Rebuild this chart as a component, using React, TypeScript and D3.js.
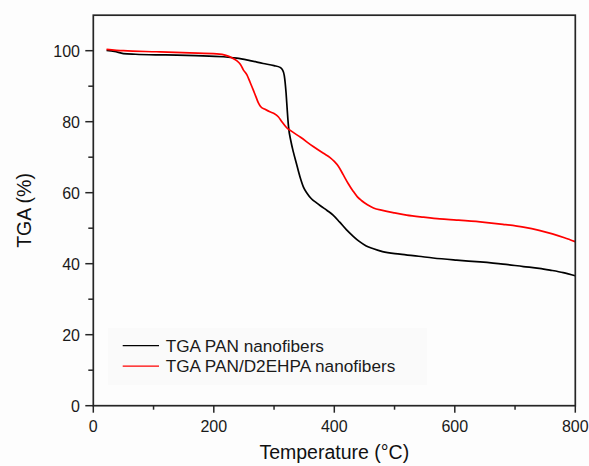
import React from "react";
import * as d3 from "d3";

const W = 589;
const H = 466;

const xTicks = [0, 200, 400, 600, 800];
const xMinor = [100, 300, 500, 700];
const yTicks = [0, 20, 40, 60, 80, 100];
const yMinor = [10, 30, 50, 70, 90];

const seriesNames = ["TGA PAN nanofibers", "TGA PAN/D2EHPA nanofibers"];
const seriesColors = ["#000000", "#ff0000"];

// Temperature (°C), TGA (%)
const panTemp = [22, 35, 50, 70, 120, 170, 216, 238, 260, 282, 300, 310, 314, 317, 320, 322, 324, 328, 332, 337, 343, 349, 355, 362, 370, 378, 388, 398, 409, 420, 431, 442, 453, 465, 480, 509, 540, 564, 603, 642, 680, 714, 740, 758, 780, 800];
const panTga = [100.1, 99.8, 99.2, 99.0, 98.8, 98.6, 98.3, 97.9, 97.2, 96.4, 95.8, 95.3, 94.6, 93.0, 88.0, 83.0, 78.6, 74.5, 71.5, 68.3, 64.5, 61.5, 59.8, 58.3, 57.2, 56.2, 55.0, 53.7, 51.7, 49.6, 47.8, 46.2, 45.0, 44.2, 43.4, 42.7, 42.1, 41.6, 41.0, 40.5, 39.9, 39.2, 38.7, 38.2, 37.5, 36.6];

const d2Temp = [22, 50, 105, 160, 205, 220, 230, 238, 244, 249, 255, 260, 265.6, 270, 274, 278, 285, 293, 300, 307, 313, 321, 330, 344, 365, 382, 393, 400, 407, 415, 423, 431, 438, 445, 455, 465, 480, 500, 520, 548, 575, 603, 642, 680, 714, 740, 762, 782, 800];
const d2Tga = [100.4, 100.0, 99.7, 99.4, 99.1, 98.7, 98.0, 97.2, 96.2, 94.6, 93.2, 91.2, 88.9, 87.0, 85.3, 84.2, 83.5, 82.8, 82.3, 81.4, 80.0, 78.3, 77.2, 75.6, 73.0, 71.1, 69.9, 68.8, 67.4, 65.0, 62.6, 60.5, 58.9, 57.8, 56.6, 55.7, 55.0, 54.3, 53.7, 53.1, 52.6, 52.3, 51.8, 51.1, 50.3, 49.4, 48.4, 47.3, 46.2];

const FONT = "'Liberation Sans', Arial, Helvetica, sans-serif";

export default function App() {
  const x = d3.scaleLinear().domain([0, 800]).range([93.3, 575.3]);
  const y = d3.scaleLinear().domain([0, 110]).range([405.7, 15.2]);

  const line = d3
    .line<[number, number]>()
    .x((d) => x(d[0]))
    .y((d) => y(d[1]))
    .curve(d3.curveMonotoneX);

  const series = [
    panTemp.map((t, i) => [t, panTga[i]] as [number, number]),
    d2Temp.map((t, i) => [t, d2Tga[i]] as [number, number]),
  ];

  const x0 = x.range()[0];
  const x1 = x.range()[1];
  const y0 = y.range()[0];
  const y1 = y.range()[1];
  const axisColor = "#262626";

  return (
    <svg
      width={W}
      height={H}
      style={{ position: "absolute", left: 0, top: 0, background: "#fdfdfd" }}
      fontFamily={FONT}
    >
      <rect x={0} y={0} width={W} height={H} fill="#fdfdfd" />
      {/* legend box */}
      <rect x={108} y={328} width={319} height={57} fill="#fafafa" />

      {/* curves */}
      {series.map((s, i) => (
        <path
          key={i}
          d={line(s) || ""}
          fill="none"
          stroke={seriesColors[i]}
          strokeWidth={1.7}
          strokeLinejoin="round"
        />
      ))}

      {/* frame */}
      <rect
        x={x0}
        y={y1}
        width={x1 - x0}
        height={y0 - y1}
        fill="none"
        stroke={axisColor}
        strokeWidth={1.7}
      />

      {/* x ticks */}
      {xTicks.map((t) => (
        <g key={"xt" + t}>
          <line x1={x(t)} x2={x(t)} y1={y0} y2={y0 + 7} stroke={axisColor} strokeWidth={1.5} />
          <text x={x(t)} y={432} textAnchor="middle" fontSize={16} fill="#1a1a1a">
            {t}
          </text>
        </g>
      ))}
      {xMinor.map((t) => (
        <line key={"xm" + t} x1={x(t)} x2={x(t)} y1={y0} y2={y0 + 4} stroke={axisColor} strokeWidth={1.5} />
      ))}

      {/* y ticks */}
      {yTicks.map((t) => (
        <g key={"yt" + t}>
          <line x1={x0 - 8} x2={x0} y1={y(t)} y2={y(t)} stroke={axisColor} strokeWidth={1.5} />
          <text x={80} y={y(t) + 5.8} textAnchor="end" fontSize={16} fill="#1a1a1a">
            {t}
          </text>
        </g>
      ))}
      {yMinor.map((t) => (
        <line key={"ym" + t} x1={x0 - 5} x2={x0} y1={y(t)} y2={y(t)} stroke={axisColor} strokeWidth={1.5} />
      ))}

      {/* axis titles */}
      <text x={(x0 + x1) / 2} y={459} textAnchor="middle" fontSize={19.5} fill="#111">
        Temperature (°C)
      </text>
      <text
        transform={`translate(31, ${(y0 + y1) / 2}) rotate(-90)`}
        textAnchor="middle"
        fontSize={19.5}
        fill="#111"
      >
        TGA (%)
      </text>

      {/* legend */}
      {seriesNames.map((n, i) => (
        <g key={"lg" + i}>
          <line x1={122.7} x2={159} y1={345.7 + i * 20.5} y2={345.7 + i * 20.5} stroke={seriesColors[i]} strokeWidth={1.3} />
          <text x={165.7} y={351.6 + i * 20.5} fontSize={17.2} fill="#1a1a1a">
            {n}
          </text>
        </g>
      ))}
    </svg>
  );
}
